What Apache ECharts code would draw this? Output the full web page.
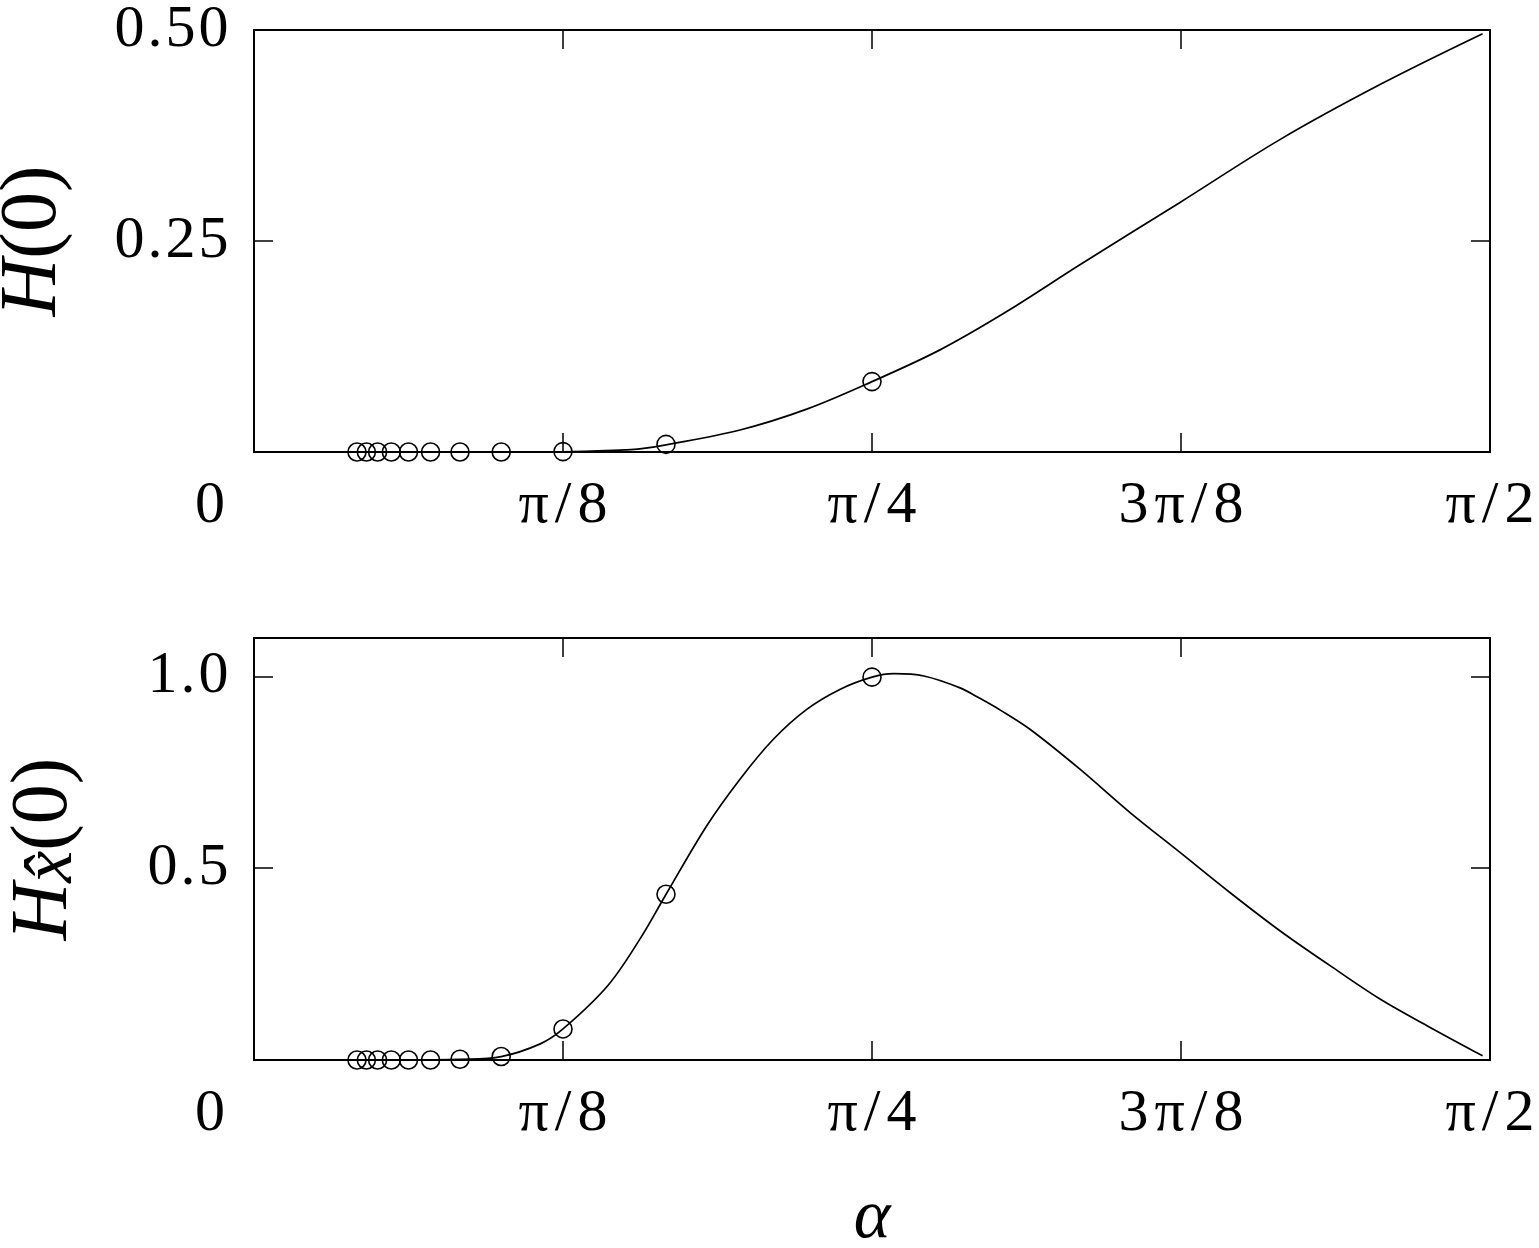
<!DOCTYPE html>
<html>
<head>
<meta charset="utf-8">
<script src="https://cdn.jsdelivr.net/npm/echarts@6/dist/echarts.min.js"></script>
<style>
  html, body { margin: 0; padding: 0; background: #fff; }
  #chart { width: 1539px; height: 1248px; }
</style>
</head>
<body>
<div id="chart"></div>
<script>
// alpha is kept in units of pi (0.125 = pi/8)
const markAlpha = [1/24, 1/22, 1/20, 1/18, 1/16, 1/14, 1/12, 1/10, 1/8, 1/6, 1/4];
const markH = [0, 0, 0, 0, 0, 0, 0, 0, 0.0005, 0.009, 0.0834];
const markHx = [0, 0, 0, 0, 0, 0, 0.002, 0.009, 0.081, 0.432, 0.998];

const curveAlphaH = [0, 0.0625, 0.1, 0.125, 0.15, 0.1561, 0.1667, 0.1966, 0.2236, 0.25, 0.2775, 0.3045, 0.3341, 0.3746, 0.415, 0.4555, 0.497];
const curveH = [0, 0, 0, 0.0003, 0.0025, 0.0036, 0.0085, 0.0261, 0.0508, 0.0834, 0.121, 0.1664, 0.2218, 0.2957, 0.3701, 0.4353, 0.4955];

const curveAlphaHx = [0, 0.06, 0.0833, 0.1, 0.1158, 0.125, 0.143, 0.1561, 0.1667, 0.1831, 0.1966, 0.2101, 0.2236, 0.237, 0.25, 0.2589, 0.271, 0.2856, 0.2938, 0.3019, 0.3139, 0.3341, 0.3544, 0.3746, 0.3949, 0.415, 0.4353, 0.4555, 0.4758, 0.497];
const curveHx = [0, 0, 0.002, 0.009, 0.042, 0.081, 0.193, 0.315, 0.432, 0.61, 0.732, 0.836, 0.914, 0.966, 0.998, 1.007, 1.001, 0.97, 0.942, 0.912, 0.862, 0.758, 0.645, 0.541, 0.436, 0.337, 0.246, 0.159, 0.085, 0.011];

const xTickLabels = ['0', 'π/8', 'π/4', '3π/8', 'π/2'];

const FONT = 'Liberation Serif';
const black = '#000';

function pairs(xs, ys) {
  return xs.map((x, i) => [x, ys[i]]);
}

// spread the characters a little, like the original tick labels
function spaced(s, style) {
  return s.split('').map(c => '{' + style + '|' + c + '}').join('');
}

const tickStyle = { show: true, inside: true, length: 19, lineStyle: { color: black, width: 1.5 } };
const frameLine = { onZero: false, lineStyle: { color: black, width: 2 } };

function xAxes(gridIndex, withName) {
  const bottom = {
    type: 'value', gridIndex: gridIndex, min: 0, max: 0.5, interval: 0.125,
    axisLine: frameLine, axisTick: tickStyle, splitLine: { show: false },
    axisLabel: {
      margin: 24, color: black, fontFamily: FONT, fontSize: 60,
      formatter: v => {
        const i = Math.round(v / 0.125);
        return i === 0 ? '{z|0}' : spaced(xTickLabels[i], 'p');
      },
      rich: {
        z: { fontFamily: FONT, fontSize: 60, color: black, padding: [0, 88, 0, 0] },
        p: { fontFamily: FONT, fontSize: 60, color: black, padding: [0, 3, 0, 3] }
      }
    }
  };
  if (withName) {
    bottom.name = 'α';
    bottom.nameLocation = 'middle';
    bottom.nameGap = 124;
    bottom.nameTextStyle = { fontFamily: FONT, fontSize: 70, fontStyle: 'italic', color: black };
  }
  const top = {
    type: 'value', gridIndex: gridIndex, position: 'top', min: 0, max: 0.5, interval: 0.125,
    axisLine: frameLine, axisTick: tickStyle, splitLine: { show: false },
    axisLabel: { show: false }
  };
  return [bottom, top];
}

function yAxes(gridIndex, max, interval, digits, name, rich, gap) {
  const left = {
    type: 'value', gridIndex: gridIndex, min: 0, max: max, interval: interval,
    axisLine: frameLine, axisTick: tickStyle, splitLine: { show: false },
    axisLabel: {
      margin: 24, color: black, fontFamily: FONT, fontSize: 60,
      formatter: v => {
        const k = v / interval;
        if (v === 0 || Math.abs(k - Math.round(k)) > 1e-6) return '';
        return spaced(v.toFixed(digits), 'd');
      },
      rich: {
        d: { fontFamily: FONT, fontSize: 60, color: black, padding: [0, 1.5, 0, 1.5] }
      }
    },
    name: name, nameLocation: 'middle', nameRotate: 90, nameGap: gap,
    nameTextStyle: { fontFamily: FONT, fontSize: 80, color: black, rich: rich }
  };
  const right = {
    type: 'value', gridIndex: gridIndex, position: 'right', min: 0, max: max, interval: interval,
    axisLine: frameLine, axisTick: tickStyle, splitLine: { show: false },
    axisLabel: { show: false }
  };
  return [left, right];
}

const richH = {
  i: { fontFamily: FONT, fontSize: 80, fontStyle: 'italic', color: black },
  n: { fontFamily: FONT, fontSize: 80, color: black }
};
const richHx = {
  i: { fontFamily: FONT, fontSize: 80, fontStyle: 'italic', color: black },
  s: { fontFamily: FONT, fontSize: 72, fontStyle: 'italic', color: black, padding: [14, 0, 0, 0] },
  n: { fontFamily: FONT, fontSize: 80, color: black }
};

const chart = echarts.init(document.getElementById('chart'));

const option = {
  animation: false,
  backgroundColor: '#fff',
  grid: [
    { left: 254, top: 30, width: 1236, height: 422, containLabel: false, outerBoundsMode: 'none' },
    { left: 254, top: 638, width: 1236, height: 422, containLabel: false, outerBoundsMode: 'none' }
  ],
  xAxis: [].concat(xAxes(0, false), xAxes(1, true)),
  yAxis: [].concat(
    yAxes(0, 0.5, 0.25, 2, '{i|H}{n|(0)}', richH, 180),
    yAxes(1, 1.1, 0.5, 1, '{i|H}{s|x\u0302}{n|(0)}', richHx, 166)
  ),
  series: [
    {
      type: 'line', xAxisIndex: 0, yAxisIndex: 0, data: pairs(curveAlphaH, curveH),
      showSymbol: false, smooth: 0.35,
      lineStyle: { color: black, width: 1.7 }
    },
    {
      type: 'scatter', xAxisIndex: 0, yAxisIndex: 0, data: pairs(markAlpha, markH),
      symbol: 'circle', symbolSize: 18,
      itemStyle: { color: 'rgba(0,0,0,0)', borderColor: black, borderWidth: 1.6, opacity: 1 }
    },
    {
      type: 'line', xAxisIndex: 2, yAxisIndex: 2, data: pairs(curveAlphaHx, curveHx),
      showSymbol: false, smooth: 0.35,
      lineStyle: { color: black, width: 1.7 }
    },
    {
      type: 'scatter', xAxisIndex: 2, yAxisIndex: 2, data: pairs(markAlpha, markHx),
      symbol: 'circle', symbolSize: 18,
      itemStyle: { color: 'rgba(0,0,0,0)', borderColor: black, borderWidth: 1.6, opacity: 1 }
    }
  ]
};

chart.setOption(option);
</script>
</body>
</html>
